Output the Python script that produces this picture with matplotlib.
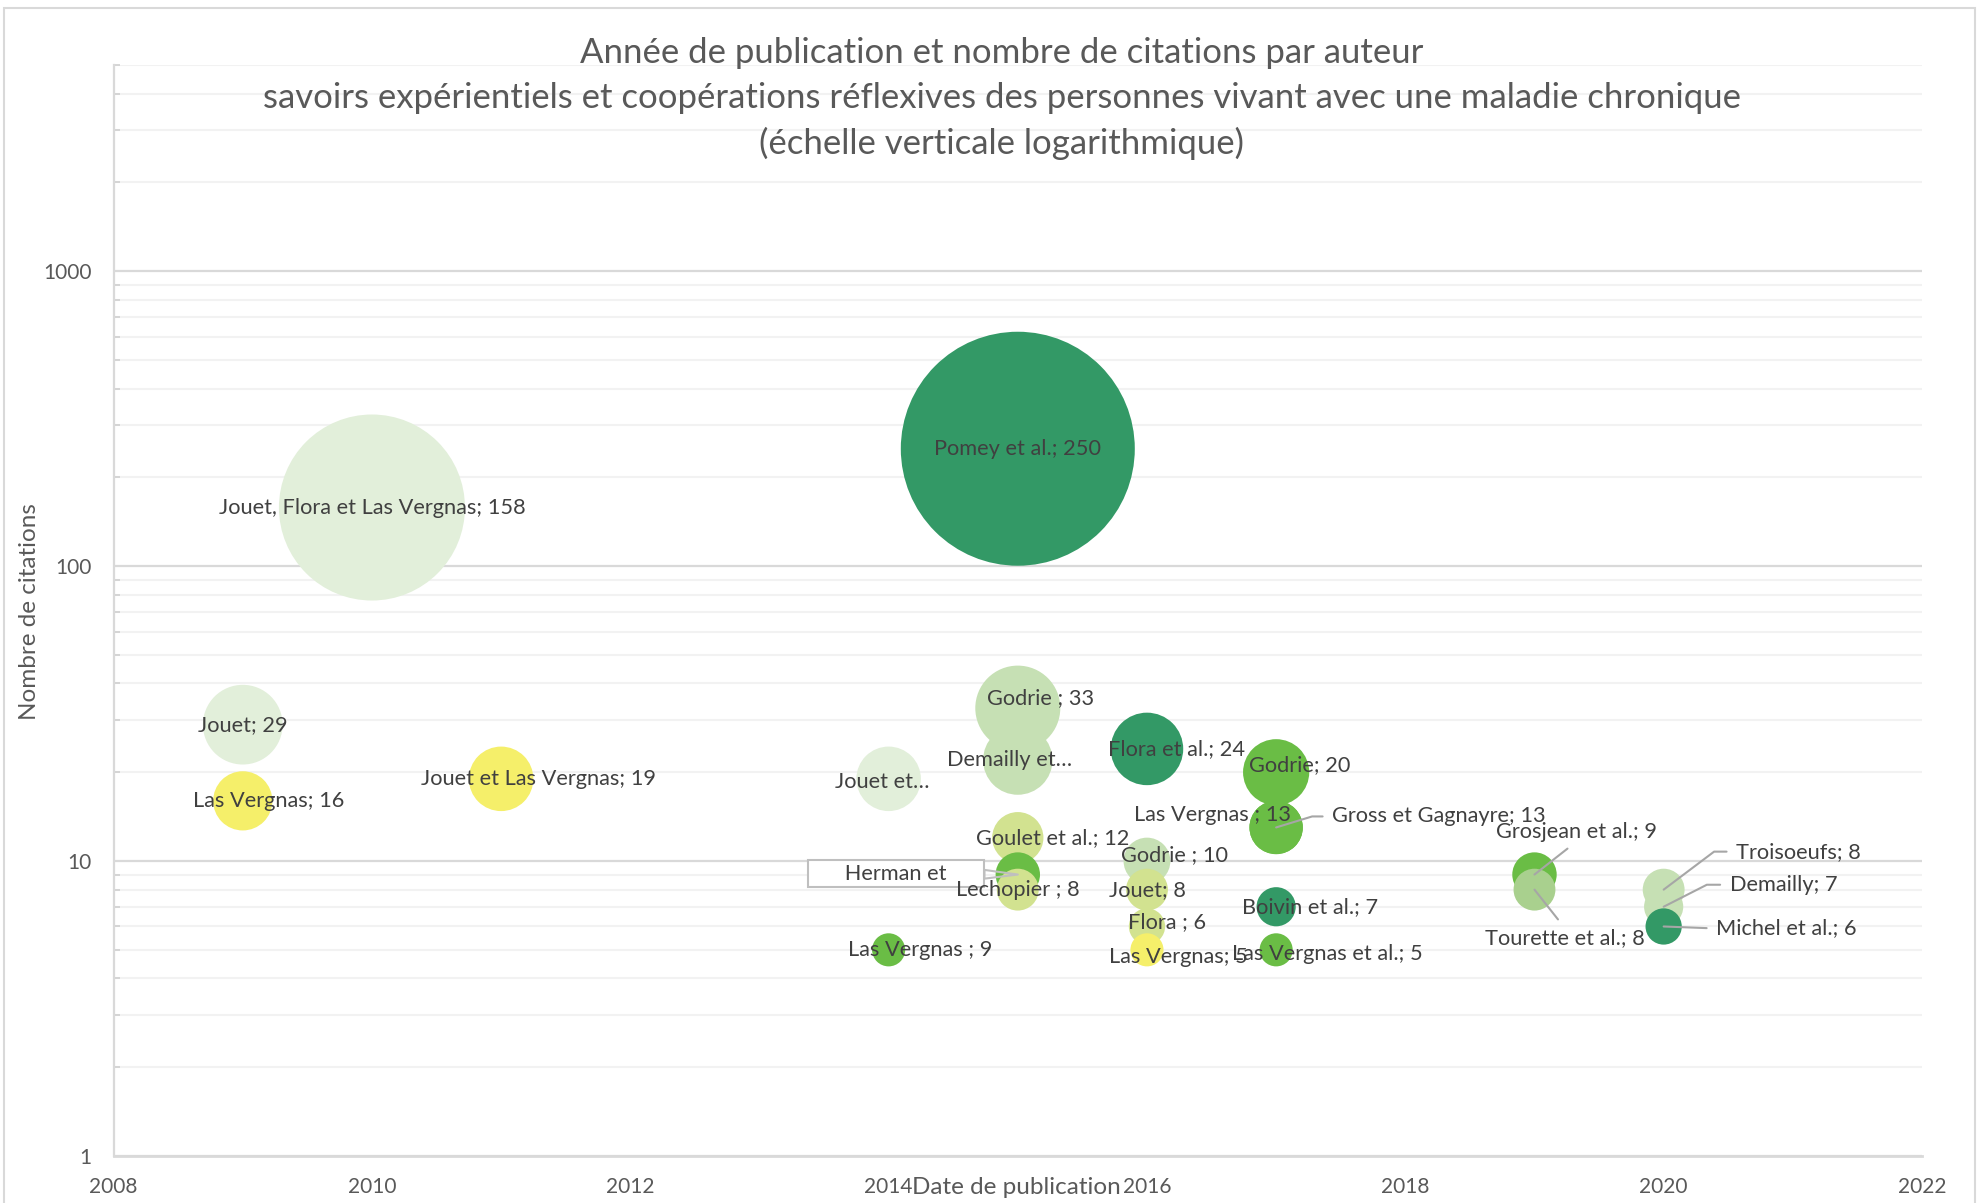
import numpy as np
import matplotlib.pyplot as plt
from matplotlib.ticker import LogLocator, NullFormatter, FixedLocator, FixedFormatter
from matplotlib.patches import Rectangle

# Publication year, citations (bubble size = citations) and data labels
years = [2010, 2015, 2009, 2009, 2011, 2014, 2015, 2015, 2016, 2017, 2017, 2017, 2015, 2015,
         2015, 2014, 2016, 2016, 2016, 2016, 2017, 2017, 2019, 2019, 2020, 2020, 2020]
citations = [158, 250, 29, 16, 19, 19, 33, 22, 24, 20, 13, 13, 12, 9,
             8, 5, 10, 8, 6, 5, 7, 5, 9, 8, 8, 7, 6]
labels = ["Jouet, Flora et Las Vergnas; 158", "Pomey et al.; 250", "Jouet; 29", "Las Vergnas; 16",
          "Jouet et Las Vergnas; 19", "Jouet et…", "Godrie ; 33", "Demailly et…", "Flora et al.; 24",
          "Godrie; 20", "Las Vergnas ; 13", "Gross et Gagnayre; 13", "Goulet et al.; 12", "Herman et",
          "Lechopier ; 8", "Las Vergnas ; 9", "Godrie ; 10", "Jouet; 8", "Flora ; 6", "Las Vergnas; 5",
          "Boivin et al.; 7", "Las Vergnas et al.; 5", "Grosjean et al.; 9", "Tourette et al.; 8",
          "Troisoeufs; 8", "Demailly; 7", "Michel et al.; 6"]

LIGHT = "#E2EFDA"
PALE = "#C6E0B4"
MID = "#A9D08E"
LIME = "#D2E290"
GREEN = "#6ABD45"
DARK = "#339966"
YELLOW = "#F5EF6A"
colors = [LIGHT, DARK, LIGHT, YELLOW, YELLOW, LIGHT, PALE, PALE, DARK, GREEN, GREEN, GREEN, LIME, GREEN,
          LIME, GREEN, PALE, LIME, LIME, YELLOW, DARK, GREEN, GREEN, MID, PALE, PALE, DARK]

# label offsets from bubble centre, in pixels (x right, y down)
offsets = [(0, 0), (0, 0), (0, 0), (26, 0), (37, 0), (-6, 3), (23, -10), (-8, 0), (30, 0),
           (24, -7), (-64, -12), (163, -11), (35, 0), (-122, -1), (0, 0), (32, 0), (28, -6),
           (0, 0), (20, -4), (31, 7), (34, 0), (51, 4), (42, -43), (30, 48), (135, -38),
           (120, -22), (123, 2)]

# leader lines: index -> (relpos, connection style)
leaders = {
    11: ((0, 0.5), "angle,angleA=180,angleB=17,rad=0"),
    22: ((0.5, 0), "arc3"),
    23: ((0.5, 1), "arc3"),
    24: ((0, 0.5), "angle,angleA=180,angleB=37,rad=0"),
    25: ((0, 0.5), "angle,angleA=180,angleB=27,rad=0"),
    26: ((0, 0.5), "arc3"),
}

dpi = 100
W, H = 1979, 1203
px = 72 / dpi

plt.rcParams['font.family'] = ['Lato', 'DejaVu Sans']
fig = plt.figure(figsize=(W / dpi, H / dpi), dpi=dpi)
ax = fig.add_axes([113.6 / W, 1 - 1156 / H, (1922 - 113.6) / W, (1156 - 65) / H])

# chart border
fig.patches.append(Rectangle((4 / W, -0.01), (W - 8) / W, 1.01 - 8 / H, transform=fig.transFigure,
                             fill=False, ec="#D9D9D9", lw=1.5))

# bubble area proportional to citations (250 -> radius 117 px)
sizes = [(2 * 117 * np.sqrt(c / 250) * px) ** 2 for c in citations]
for i in range(len(years)):
    ax.scatter(years[i], citations[i], s=sizes[i], color=colors[i], edgecolors='none', zorder=3 + i * 0.01)

ax.set_yscale('log')
ax.set_ylim(1, 5000)
ax.set_xlim(2008, 2022)
ax.xaxis.set_major_locator(FixedLocator(range(2008, 2023, 2)))
ax.yaxis.set_major_locator(FixedLocator([1, 10, 100, 1000]))
ax.yaxis.set_major_formatter(FixedFormatter(["1", "10", "100", "1000"]))
ax.yaxis.set_minor_locator(LogLocator(base=10, subs=np.arange(2, 10)))
ax.yaxis.set_minor_formatter(NullFormatter())

ax.grid(True, which='major', axis='y', color="#D9D9D9", lw=1.6, zorder=0)
ax.grid(True, which='minor', axis='y', color="#F2F2F2", lw=1.5, zorder=0)
ax.set_axisbelow(True)
for s in ['top', 'right']:
    ax.spines[s].set_visible(False)
ax.spines['left'].set_color("#D9D9D9")
ax.spines['left'].set_linewidth(1.6)
ax.spines['bottom'].set_color("#D9D9D9")
ax.spines['bottom'].set_linewidth(2)
ax.tick_params(axis='x', length=0, pad=15, labelsize=15, labelcolor="#595959")
ax.tick_params(axis='y', which='major', length=0, pad=16, labelsize=15, labelcolor="#595959")
ax.tick_params(axis='y', which='minor', direction='in', length=4, color="#D0D0D0", width=1.2)

# data labels
for i, lab in enumerate(labels):
    dx, dy = offsets[i]
    kw = dict(xy=(years[i], citations[i]), xytext=(dx * px, -dy * px), textcoords='offset points',
              ha='center', va='center', fontsize=15.7, color="#404040", zorder=10)
    if i in leaders:
        rel, cs = leaders[i]
        kw['arrowprops'] = dict(arrowstyle='-', color="#A6A6A6", lw=1.5, shrinkA=5, shrinkB=0,
                                relpos=rel, connectionstyle=cs)
    if lab == "Herman et":
        lab = "      Herman et      "
        kw['bbox'] = dict(boxstyle='square,pad=0.15', fc='white', ec="#BFBFBF", lw=1.5)
        kw['arrowprops'] = dict(arrowstyle='wedge,tail_width=0.4,shrink_factor=0.5', fc='none',
                                ec="#BFBFBF", lw=1.5, shrinkA=0, shrinkB=0)
    ax.annotate(lab, **kw)

# titles
title_lines = ["Année de publication et nombre de citations par auteur",
               "savoirs expérientiels et coopérations réflexives des personnes vivant avec une maladie chronique",
               "(échelle verticale logarithmique)"]
for k, line in enumerate(title_lines):
    fig.text(1002 / W, 1 - (53 + 45 * k) / H, line, ha='center', va='center', fontsize=25,
             color="#595959")

fig.text(1016 / W, 1 - 1188 / H, "Date de publication", ha='center', va='center', fontsize=17.5,
         color="#595959")
fig.text(30 / W, 1 - 612 / H, "Nombre de citations", ha='center', va='center', rotation=90,
         fontsize=17.5, color="#595959")

fig.savefig("out.png", dpi=dpi)
